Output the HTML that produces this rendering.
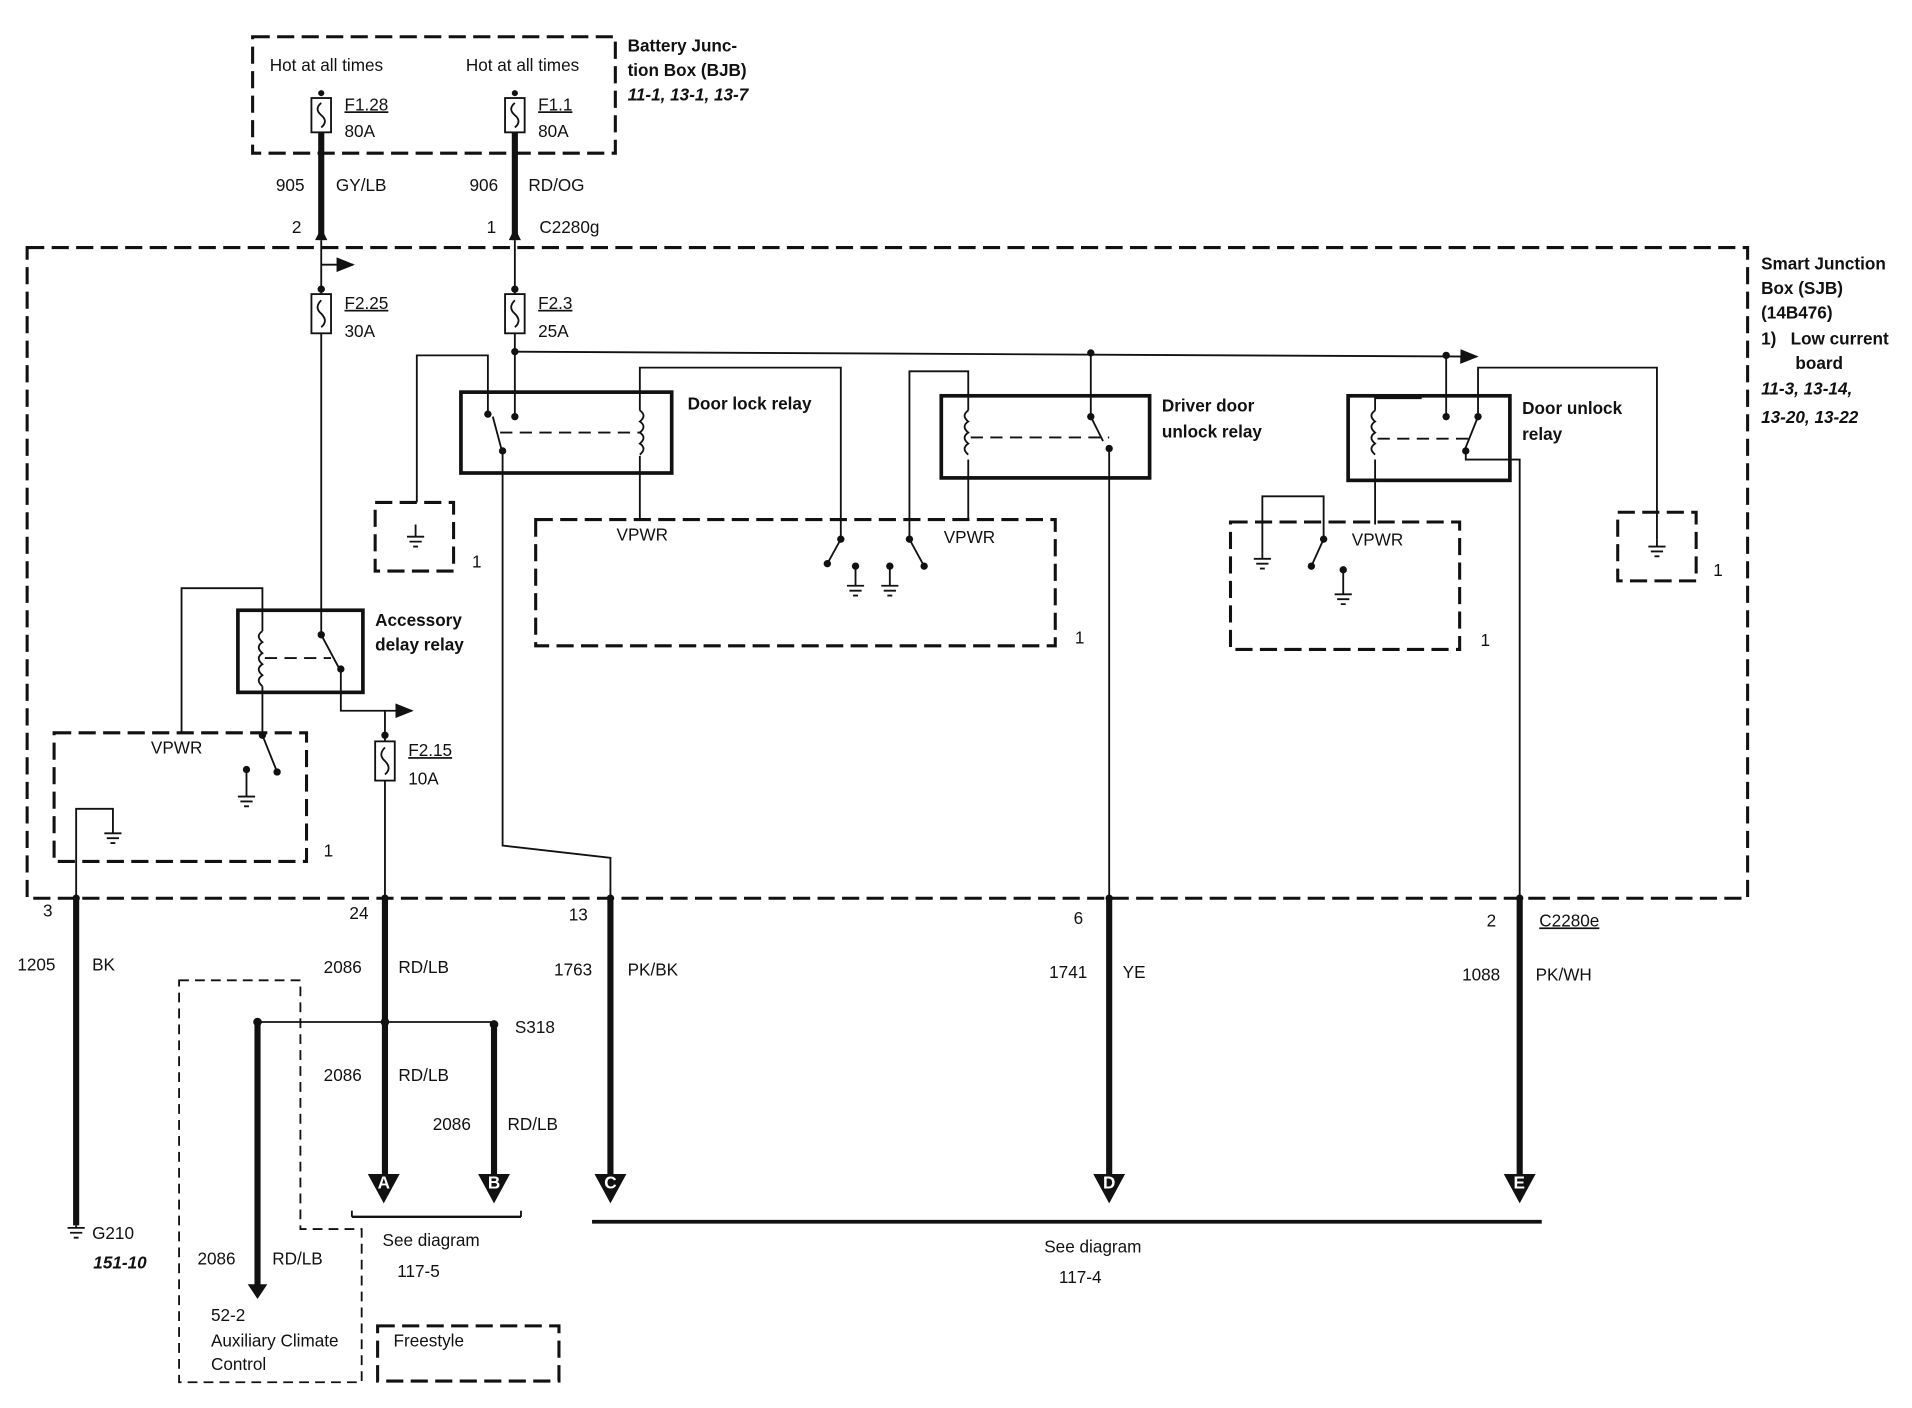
<!DOCTYPE html>
<html><head><meta charset="utf-8"><style>
html,body{margin:0;padding:0;background:#fff}
svg{display:block}
text{font-family:"Liberation Sans",sans-serif;font-size:14px;fill:#111}
.b{font-weight:bold}
.i{font-style:italic;font-weight:bold}
</style></head><body>
<svg width="1912" height="1408" viewBox="0 0 1560 1149" xmlns="http://www.w3.org/2000/svg">
<defs>
<marker id="ar" markerWidth="10" markerHeight="8" refX="9" refY="4" orient="auto"><path d="M0,0 L10,4 L0,8 z" fill="#111"/></marker>
</defs>
<g fill="none" stroke="#111">
<!-- dashed boxes -->
<g stroke-width="2.5" stroke-dasharray="14,6">
<rect x="206" y="30" width="296" height="95"/>
<rect x="22" y="202" width="1404" height="531"/>
<rect x="306" y="410" width="64" height="56"/>
<rect x="1320" y="418" width="64" height="56"/>
<rect x="437" y="424" width="424" height="103"/>
<rect x="1004" y="426" width="187" height="104"/>
<rect x="44" y="598" width="206" height="105"/>
<rect x="308" y="1082" width="148" height="45"/>
</g>
<path d="M146,800 H245 V1003 H295 V1128 H146 Z" stroke-width="1.5" stroke-dasharray="8,5"/>
<!-- relay boxes -->
<g stroke-width="3">
<rect x="376" y="320" width="172" height="66"/>
<rect x="768" y="323" width="170" height="67"/>
<rect x="1100" y="323" width="132" height="69"/>
<rect x="194" y="498" width="102" height="67"/>
</g>
<g stroke-width="1.5" stroke-dasharray="10,6">
<line x1="408" y1="353" x2="522" y2="353"/>
<line x1="792" y1="357" x2="905" y2="357"/>
<line x1="1124" y1="358" x2="1198" y2="358"/>
<line x1="216" y1="537" x2="270" y2="537"/>
</g>
<!-- thick wires -->
<g stroke-width="5">
<line x1="262" y1="108" x2="262" y2="196"/>
<line x1="420" y1="108" x2="420" y2="196"/>
<line x1="62" y1="733" x2="62" y2="1000"/>
<line x1="314" y1="733" x2="314" y2="960"/>
<line x1="403" y1="836" x2="403" y2="960"/>
<line x1="498" y1="733" x2="498" y2="960"/>
<line x1="905" y1="733" x2="905" y2="960"/>
<line x1="1240" y1="733" x2="1240" y2="960"/>
<line x1="210" y1="836" x2="210" y2="1050"/>
</g>
<!-- thin wires -->
<g stroke-width="1.5">
<line x1="262" y1="196" x2="262" y2="240"/>
<line x1="262" y1="216" x2="288" y2="216" marker-end="url(#ar)"/>
<line x1="262" y1="272" x2="262" y2="518"/>
<line x1="420" y1="196" x2="420" y2="240"/>
<line x1="420" y1="272" x2="420" y2="340"/>
<line x1="420" y1="287" x2="1205" y2="291" marker-end="url(#ar)"/>
<path d="M340,410 V290 H398 V338"/>
<path d="M402,340 L410,370 V690 L498,700 V733"/>
<path d="M522,335 V300 H686 V440 L675,460"/>
<path d="M522,372 V424"/>
<path d="M742,440 V303 H790 V335"/>
<path d="M742,440 L754,462"/>
<path d="M790,375 V424"/>
<path d="M890,288 V340 L900,360"/>
<path d="M905,365 V733"/>
<path d="M1180,290 V340"/>
<path d="M1206,340 V300 H1352 V440"/>
<path d="M1206,340 L1196,365 L1196,375 H1240 V733"/>
<path d="M1122,335 V325 H1160"/>
<path d="M1122,375 V428"/>
<path d="M1030,452 V405 H1080 V440 L1070,462"/>
<path d="M1096,465 V485"/>
<path d="M698,462 V478 M726,462 V478"/>
<path d="M148,598 V480 H214 V515"/>
<path d="M214,560 V600 L226,630"/>
<path d="M262,518 L278,548 V580 H336" marker-end="url(#ar)"/>
<line x1="314" y1="580" x2="314" y2="605"/>
<line x1="314" y1="637" x2="314" y2="733"/>
<path d="M201,628 V650"/>
<path d="M62,733 V660 H92 V680"/>
<line x1="210" y1="834" x2="403" y2="834"/>
<line x1="287" y1="993" x2="425" y2="993" stroke-width="2"/>
<line x1="287" y1="988" x2="287" y2="993"/>
<line x1="425" y1="988" x2="425" y2="993"/>
<line x1="483" y1="997" x2="1258" y2="997" stroke-width="3"/>
<line x1="62" y1="1000" x2="62" y2="1002"/>
</g>
<!-- coils -->
<g stroke-width="1.5">
<path d="M522,335 q6,4 0,9 q6,4 0,9 q6,4 0,9 q6,4 0,9"/>
<path d="M790,335 q-6,4 0,9 q-6,4 0,9 q-6,4 0,9 q-6,4 0,9"/>
<path d="M1122,335 q-6,4 0,9 q-6,4 0,9 q-6,4 0,9 q-6,4 0,9"/>
<path d="M214,515 q-6,4 0,9 q-6,4 0,9 q-6,4 0,9 q-6,4 0,9 q-6,4 0,9"/>
</g>
<!-- fuses -->
<g stroke-width="1.5">
<rect x="254" y="80" width="16" height="28"/><path d="M262,84 q-6,5 0,10 q6,5 0,10"/>
<rect x="412" y="80" width="16" height="28"/><path d="M420,84 q-6,5 0,10 q6,5 0,10"/>
<rect x="254" y="240" width="16" height="32"/><path d="M262,245 q-6,6 0,11 q6,6 0,11"/>
<rect x="412" y="240" width="16" height="32"/><path d="M420,245 q-6,6 0,11 q6,6 0,11"/>
<rect x="306" y="605" width="16" height="32"/><path d="M314,610 q-6,6 0,11 q6,6 0,11"/>
</g>
</g>
<!-- dots -->
<g fill="#111">
<circle cx="262" cy="76" r="2.5"/><circle cx="420" cy="76" r="2.5"/>
<circle cx="262" cy="236" r="3"/><circle cx="420" cy="236" r="3"/>
<circle cx="420" cy="287" r="3"/><circle cx="890" cy="288" r="3"/><circle cx="1180" cy="290" r="3"/>
<circle cx="314" cy="600" r="3"/><circle cx="398" cy="338" r="3"/><circle cx="420" cy="340" r="3"/><circle cx="410" cy="368" r="3"/>
<circle cx="686" cy="440" r="3"/><circle cx="675" cy="460" r="3"/><circle cx="742" cy="440" r="3"/><circle cx="754" cy="462" r="3"/>
<circle cx="698" cy="462" r="3"/><circle cx="726" cy="462" r="3"/>
<circle cx="890" cy="340" r="3"/><circle cx="905" cy="366" r="3"/><circle cx="1180" cy="340" r="3"/><circle cx="1206" cy="340" r="3"/><circle cx="1196" cy="368" r="3"/>
<circle cx="1080" cy="440" r="3"/><circle cx="1070" cy="462" r="3"/><circle cx="1096" cy="465" r="3"/>
<circle cx="262" cy="518" r="3"/><circle cx="278" cy="546" r="3"/><circle cx="214" cy="600" r="3"/><circle cx="226" cy="630" r="3"/><circle cx="201" cy="628" r="3"/>
<circle cx="210" cy="834" r="3.5"/><circle cx="314" cy="834" r="3.5"/><circle cx="403" cy="836" r="3.5"/>
<circle cx="62" cy="733" r="3"/><circle cx="314" cy="733" r="3"/><circle cx="498" cy="733" r="3"/><circle cx="905" cy="733" r="3"/><circle cx="1240" cy="733" r="3"/>
<path d="M262,186 l-5,10 h10z"/><path d="M420,186 l-5,10 h10z"/>
<path d="M300,958 h26 l-13,24z"/><path d="M390,958 h26 l-13,24z"/><path d="M485,958 h26 l-13,24z"/><path d="M892,958 h26 l-13,24z"/><path d="M1227,958 h26 l-13,24z"/>
<path d="M202,1048 h16 l-8,12z"/>
</g>
<!-- grounds -->
<g stroke="#111" stroke-width="1.5">
<path d="M332,438 h14 M334,442 h10 M337,446 h4 M339,428 v10"/>
<path d="M1345,446 h14 M1347,450 h10 M1350,454 h4 M1352,440 v6"/>
<path d="M1023,456 h14 M1025,460 h10 M1028,464 h4 M1030,452 v4"/>
<path d="M1089,485 h14 M1091,489 h10 M1094,493 h4"/>
<path d="M691,478 h14 M693,482 h10 M696,486 h4 M719,478 h14 M721,482 h10 M724,486 h4"/>
<path d="M194,650 h14 M196,654 h10 M199,658 h4"/>
<path d="M85,680 h14 M87,684 h10 M90,688 h4"/>
<path d="M55,1002 h14 M57,1006 h10 M60,1010 h4"/>
</g>
<!-- letters in arrows -->
<g font-weight="bold" style="font-size:12px">
<text x="308" y="970" fill="#fff" style="fill:#fff">A</text><text x="398" y="970" style="fill:#fff">B</text>
<text x="493" y="970" style="fill:#fff">C</text><text x="900" y="970" style="fill:#fff">D</text><text x="1235" y="970" style="fill:#fff">E</text>
</g>
<!-- text -->
<text x="220" y="58">Hot at all times</text><text x="380" y="58">Hot at all times</text>
<text x="281" y="90" text-decoration="underline">F1.28</text><text x="281" y="112">80A</text>
<text x="439" y="90" text-decoration="underline">F1.1</text><text x="439" y="112">80A</text>
<text x="512" y="42" class="b">Battery Junc-</text><text x="512" y="62" class="b">tion Box (BJB)</text><text x="512" y="82" class="i">11-1, 13-1, 13-7</text>
<text x="225" y="156">905</text><text x="274" y="156">GY/LB</text><text x="383" y="156">906</text><text x="431" y="156">RD/OG</text>
<text x="238" y="190">2</text><text x="397" y="190">1</text><text x="440" y="190">C2280g</text>
<text x="281" y="252" text-decoration="underline">F2.25</text><text x="281" y="275">30A</text>
<text x="439" y="252" text-decoration="underline">F2.3</text><text x="439" y="275">25A</text>
<text x="333" y="617" text-decoration="underline">F2.15</text><text x="333" y="640">10A</text>
<text x="1437" y="220" class="b">Smart Junction</text><text x="1437" y="240" class="b">Box (SJB)</text><text x="1437" y="260" class="b">(14B476)</text>
<text x="1437" y="281" class="b">1)&#160;&#160;&#160;Low current</text><text x="1465" y="301" class="b">board</text>
<text x="1437" y="322" class="i">11-3, 13-14,</text><text x="1437" y="345" class="i">13-20, 13-22</text>
<text x="561" y="334" class="b">Door lock relay</text>
<text x="948" y="336" class="b">Driver door</text><text x="948" y="357" class="b">unlock relay</text>
<text x="1242" y="338" class="b">Door unlock</text><text x="1242" y="359" class="b">relay</text>
<text x="306" y="511" class="b">Accessory</text><text x="306" y="531" class="b">delay relay</text>
<text x="503" y="441">VPWR</text><text x="770" y="443">VPWR</text><text x="1103" y="445">VPWR</text><text x="123" y="615">VPWR</text>
<text x="385" y="463">1</text><text x="877" y="525">1</text><text x="1208" y="527">1</text><text x="1398" y="470">1</text><text x="264" y="699">1</text>
<text x="35" y="748">3</text><text x="285" y="750">24</text><text x="464" y="751">13</text><text x="876" y="754">6</text><text x="1213" y="756">2</text>
<text x="1256" y="756" text-decoration="underline">C2280e</text>
<text x="14" y="792">1205</text><text x="75" y="792">BK</text>
<text x="264" y="794">2086</text><text x="325" y="794">RD/LB</text>
<text x="452" y="796">1763</text><text x="512" y="796">PK/BK</text>
<text x="856" y="798">1741</text><text x="916" y="798">YE</text>
<text x="1193" y="800">1088</text><text x="1253" y="800">PK/WH</text>
<text x="420" y="843">S318</text>
<text x="264" y="882">2086</text><text x="325" y="882">RD/LB</text>
<text x="353" y="922">2086</text><text x="414" y="922">RD/LB</text>
<text x="75" y="1011">G210</text><text x="76" y="1035" class="i">151-10</text>
<text x="312" y="1017">See diagram</text><text x="324" y="1042">117-5</text>
<text x="852" y="1022">See diagram</text><text x="864" y="1047">117-4</text>
<text x="161" y="1032">2086</text><text x="222" y="1032">RD/LB</text>
<text x="172" y="1078">52-2</text><text x="172" y="1099">Auxiliary Climate</text><text x="172" y="1118">Control</text>
<text x="321" y="1099">Freestyle</text>
</svg>
</body></html>
